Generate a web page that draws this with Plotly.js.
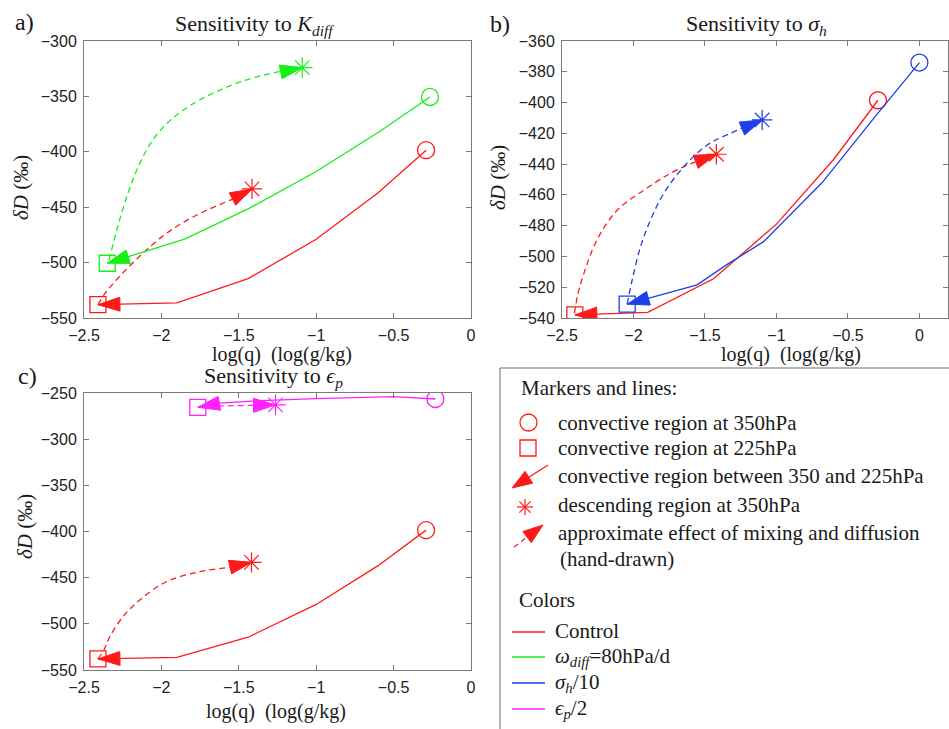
<!DOCTYPE html>
<html><head><meta charset="utf-8">
<script src="https://cdn.plot.ly/plotly-3.0.1.min.js"></script>
<style>html,body{margin:0;padding:0;background:#fff}</style>
</head><body><div id="chart" style="width:949px;height:729px"></div>
<script>
// ---------- data ----------
const xTickVals = [-2.5, -2, -1.5, -1, -0.5, 0];
const yTicksA = [-550, -500, -450, -400, -350, -300];
const yTicksB = [-540, -520, -500, -480, -460, -440, -420, -400, -380, -360];
const yTicksC = [-550, -500, -450, -400, -350, -300, -250];

// Control run (red): convective profile 350 -> 225 hPa
const controlSolidX = [-0.29, -0.6, -1.0, -1.44, -1.9, -2.41];
const controlSolidY = [-398.5, -437, -479, -514.5, -536.3, -538];
// Control: hand-drawn mixing/diffusion paths (square -> star), one per panel
const controlDashAX = [-2.41, -2.36, -2.30, -2.24, -2.13, -2.0, -1.85, -1.68, -1.53, -1.415];
const controlDashAY = [-538, -527, -517, -508, -493, -477, -463, -451, -442, -433.5];
const controlDashBX = [-2.413, -2.39, -2.347, -2.254, -2.114, -1.928, -1.741, -1.58, -1.42];
const controlDashBY = [-537, -525, -511, -489, -470, -457, -446, -439, -433.6];
const controlDashCX = [-2.41, -2.37, -2.334, -2.248, -2.14, -1.968, -1.752, -1.537, -1.418];
const controlDashCY = [-538, -528, -514, -492.3, -474.2, -454.4, -443.5, -438.1, -433.4];

// omega_diff = 80 hPa/d (green)
const kdiffSolidX = [-0.265, -0.59, -1.0, -1.43, -1.85, -2.35];
const kdiffSolidY = [-350.5, -381.7, -417.8, -450.8, -478.8, -500.6];
const kdiffDashX = [-2.338, -2.285, -2.22, -2.145, -2.048, -1.94, -1.79, -1.596, -1.38, -1.09];
const kdiffDashY = [-497.7, -469, -439, -411.9, -387.8, -371.3, -356.2, -342.7, -332.2, -324];

// sigma_h / 10 (blue)
const sigmaSolidX = [0, -0.3, -0.68, -1.09, -1.35, -1.555, -2.044];
const sigmaSolidY = [-374, -408, -452, -490.4, -505.5, -518.5, -531];
const sigmaDashX = [-2.044, -2.009, -1.951, -1.881, -1.788, -1.648, -1.485, -1.322, -1.10];
const sigmaDashY = [-531, -515.3, -493.7, -476.3, -459, -441.7, -427.6, -420, -411.3];

// epsilon_p / 2 (magenta)
const epsSolidX = [-0.23, -0.5, -1.0, -1.25, -1.42, -1.62, -1.765];
const epsSolidY = [-256.5, -254, -256, -257.5, -258.7, -261, -265.5];
const epsDashX = [-1.765, -1.6, -1.45, -1.263];
const epsDashY = [-265, -264, -263.5, -262.8];

const RED = '#ff1a1a', GREEN = '#16f016', BLUE = '#1f3fe8', MAG = '#ff22ff';

// ---------- layout geometry (pixels) ----------
const W = 949, H = 729;
const panels = {
  a: {xa: 'x', ya: 'y', px: [84, 471], py: [41, 318], xr: [-2.5, 0], yr: [-550, -300], yt: yTicksA},
  b: {xa: 'x2', ya: 'y2', px: [562, 948], py: [41, 318], xr: [-2.5, 0.2], yr: [-540, -360], yt: yTicksB},
  c: {xa: 'x3', ya: 'y3', px: [84, 471], py: [393, 670], xr: [-2.5, 0], yr: [-550, -250], yt: yTicksC}
};
function scale(p) {
  return {sx: (p.px[1] - p.px[0]) / (p.xr[1] - p.xr[0]), sy: (p.py[1] - p.py[0]) / (p.yr[1] - p.yr[0])};
}
// filled arrow head at the end of a polyline, built in pixel space and mapped back to data units
function arrowHead(xs, ys, sx, sy, L, HW) {
  const n = xs.length;
  const tip = [xs[n - 1] * sx, ys[n - 1] * sy];
  let acc = 0, base = null;
  for (let i = n - 2; i >= 0; i--) {
    const q = [xs[i + 1] * sx, ys[i + 1] * sy], p = [xs[i] * sx, ys[i] * sy];
    const seg = Math.hypot(p[0] - q[0], p[1] - q[1]);
    if (acc + seg >= L) { const t = (L - acc) / seg; base = [q[0] + (p[0] - q[0]) * t, q[1] + (p[1] - q[1]) * t]; break; }
    acc += seg;
  }
  if (!base) base = [xs[0] * sx, ys[0] * sy];
  const dx = tip[0] - base[0], dy = tip[1] - base[1], len = Math.hypot(dx, dy);
  const ux = dx / len, uy = dy / len;
  const b = [tip[0] - ux * L, tip[1] - uy * L];
  const p1 = [b[0] - uy * HW, b[1] + ux * HW], p2 = [b[0] + uy * HW, b[1] - ux * HW];
  return {x: [tip[0] / sx, p1[0] / sx, p2[0] / sx, tip[0] / sx], y: [tip[1] / sy, p1[1] / sy, p2[1] / sy, tip[1] / sy]};
}

const traces = [];
function addSeries(pk, sx_, sy_, dx_, dy_, color) {
  const p = panels[pk], s = scale(p);
  const ax = {xaxis: p.xa, yaxis: p.ya};
  traces.push(Object.assign({type: 'scatter', mode: 'lines', x: sx_, y: sy_, line: {color: color, width: 1.3}, hoverinfo: 'skip'}, ax));
  traces.push(Object.assign({type: 'scatter', mode: 'lines', x: dx_, y: dy_, line: {color: color, width: 1.3, dash: '6px,4px', shape: 'spline', smoothing: 1}, hoverinfo: 'skip'}, ax));
  const a1 = arrowHead(sx_, sy_, s.sx, s.sy, 22, 7);
  const a2 = arrowHead(dx_, dy_, s.sx, s.sy, 22, 7);
  [a1, a2].forEach(a => traces.push(Object.assign({type: 'scatter', mode: 'lines', x: a.x, y: a.y, fill: 'toself', fillcolor: color, line: {color: color, width: 1}, hoverinfo: 'skip'}, ax)));
  traces.push(Object.assign({type: 'scatter', mode: 'markers', x: [sx_[0]], y: [sy_[0]], marker: {symbol: 'circle-open', size: 17, color: color, line: {width: 1.3, color: color}}}, ax));
  traces.push(Object.assign({type: 'scatter', mode: 'markers', x: [sx_[sx_.length - 1]], y: [sy_[sy_.length - 1]], marker: {symbol: 'square-open', size: 16, color: color, line: {width: 1.3, color: color}}}, ax));
  traces.push(Object.assign({type: 'scatter', mode: 'markers', x: [dx_[dx_.length - 1]], y: [dy_[dy_.length - 1]], marker: {symbol: 'asterisk-open', size: 17, color: color, line: {width: 1.2, color: color}}}, ax));
}
addSeries('a', controlSolidX, controlSolidY, controlDashAX, controlDashAY, RED);
addSeries('a', kdiffSolidX, kdiffSolidY, kdiffDashX, kdiffDashY, GREEN);
addSeries('b', controlSolidX, controlSolidY, controlDashBX, controlDashBY, RED);
addSeries('b', sigmaSolidX, sigmaSolidY, sigmaDashX, sigmaDashY, BLUE);
addSeries('c', controlSolidX, controlSolidY, controlDashCX, controlDashCY, RED);
addSeries('c', epsSolidX, epsSolidY, epsDashX, epsDashY, MAG);

const AXC = '#7a7a7a';
function axis(dom, range, tickvals, anchor) {
  return {domain: dom, range: range, anchor: anchor, tickmode: 'array', tickvals: tickvals,
    showline: true, mirror: 'ticks', linecolor: AXC, linewidth: 1, ticks: 'inside', ticklen: 5, tickcolor: AXC,
    showgrid: false, zeroline: false, ticklabelstandoff: 3,
    tickfont: {family: 'Liberation Sans, Arial, sans-serif', size: 16, color: '#222'}};
}
const layout = {width: W, height: H, margin: {l: 0, r: 0, t: 0, b: 0}, showlegend: false,
  paper_bgcolor: '#fff', plot_bgcolor: '#fff', annotations: [], shapes: []};
const ids = {a: ['xaxis', 'yaxis'], b: ['xaxis2', 'yaxis2'], c: ['xaxis3', 'yaxis3']};
for (const k in panels) {
  const p = panels[k];
  layout[ids[k][0]] = axis([p.px[0] / W, p.px[1] / W], p.xr, xTickVals, p.ya);
  layout[ids[k][1]] = axis([1 - p.py[1] / H, 1 - p.py[0] / H], p.yr, p.yt, p.xa);
}
const SERIF = 'Liberation Serif, Times New Roman, serif';
function txt(t, x, y, size, opts) {
  layout.annotations.push(Object.assign({text: t, xref: 'paper', yref: 'paper', x: x / W, y: 1 - y / H,
    xanchor: 'center', yanchor: 'middle', showarrow: false, font: {family: SERIF, size: size, color: '#1a1a1a'}}, opts || {}));
}
// panel labels & titles
txt('a)', 24, 22, 24); txt('b)', 500, 24, 24); txt('c)', 27, 376, 24);
txt('Sensitivity to <i>K</i><sub><i>diff</i></sub>', 255, 25, 22);
txt('Sensitivity to <i>σ</i><sub><i>h</i></sub>', 756, 25, 22);
txt('Sensitivity to <i>ϵ</i><sub><i>p</i></sub>', 273, 377, 22);
// axis titles
txt('log(q)  (log(g/kg)', 282, 354, 20); txt('log(q)  (log(g/kg)', 791, 354, 20); txt('log(q)  (log(g/kg)', 276, 711, 20);
txt('<i>δD</i> (‰)', 21, 188, 21, {textangle: -90}); txt('<i>δD</i> (‰)', 498, 178, 21, {textangle: -90}); txt('<i>δD</i> (‰)', 25, 527, 21, {textangle: -90});

// ---------- legend box ----------
const P = (x, y) => [(x / W).toFixed(5), (1 - y / H).toFixed(5)];
const shp = (o) => layout.shapes.push(Object.assign({xref: 'paper', yref: 'paper'}, o));
shp({type: 'rect', x0: 500 / W, x1: 1.01, y0: -0.01, y1: 1 - 368 / H, line: {color: '#6a6a6a', width: 1}});
const LFS = 21;
const lt = (t, x, y, c) => txt(t, x, y, LFS, {xanchor: 'left', font: {family: SERIF, size: LFS, color: c || '#1a1a1a'}});
lt('Markers and lines:', 519, 388);
lt('convective region at 350hPa', 556, 423);
lt('convective region at 225hPa', 556, 448);
lt('convective region between 350 and 225hPa', 556, 476);
lt('descending region at 350hPa', 556, 505);
lt('approximate effect of mixing and diffusion', 556, 533);
lt('(hand-drawn)', 558, 559);
lt('Colors', 517, 600);
lt('Control', 553, 631);
lt('<i>ω</i><sub><i>diff</i></sub>=80hPa/d', 553, 657);
lt('<i>σ</i><sub><i>h</i></sub>/10', 553, 683);
lt('<i>ϵ</i><sub><i>p</i></sub>/2', 553, 709);
// glyphs
shp({type: 'circle', x0: 520 / W, x1: 537 / W, y0: 1 - 431 / H, y1: 1 - 414 / H, line: {color: RED, width: 1.3}});
shp({type: 'rect', x0: 520 / W, x1: 536 / W, y0: 1 - 456 / H, y1: 1 - 440 / H, line: {color: RED, width: 1.3}});
function legendArrow(x0, y0, x1, y1, dash) {
  const d = Math.hypot(x1 - x0, y1 - y0), ux = (x1 - x0) / d, uy = (y1 - y0) / d, L = 20, HW = 7;
  const bx = x1 - ux * L, by = y1 - uy * L;
  shp({type: 'line', x0: x0 / W, y0: 1 - y0 / H, x1: bx / W, y1: 1 - by / H, line: {color: RED, width: 1.3, dash: dash}});
  const a = P(x1, y1), b = P(bx - uy * HW, by + ux * HW), c = P(bx + uy * HW, by - ux * HW);
  shp({type: 'path', path: `M${a[0]},${a[1]} L${b[0]},${b[1]} L${c[0]},${c[1]} Z`, fillcolor: RED, line: {color: RED, width: 1}});
}
legendArrow(548, 465, 512, 488, 'solid');
legendArrow(514, 547, 543, 525, '5px,4px');
(function star(cx, cy, r) {
  const d = r * 0.7071, segs = [[cx - r, cy, cx + r, cy], [cx, cy - r, cx, cy + r], [cx - d, cy - d, cx + d, cy + d], [cx - d, cy + d, cx + d, cy - d]];
  segs.forEach(s => shp({type: 'line', x0: s[0] / W, y0: 1 - s[1] / H, x1: s[2] / W, y1: 1 - s[3] / H, line: {color: RED, width: 1.2}}));
})(525, 507, 8);
[[RED, 632], [GREEN, 657], [BLUE, 683], [MAG, 709]].forEach(([c, y]) =>
  shp({type: 'line', x0: 512 / W, x1: 545 / W, y0: 1 - y / H, y1: 1 - y / H, line: {color: c, width: 1.3}}));

Plotly.newPlot('chart', traces, layout, {displayModeBar: false, staticPlot: true});
</script></body></html>
